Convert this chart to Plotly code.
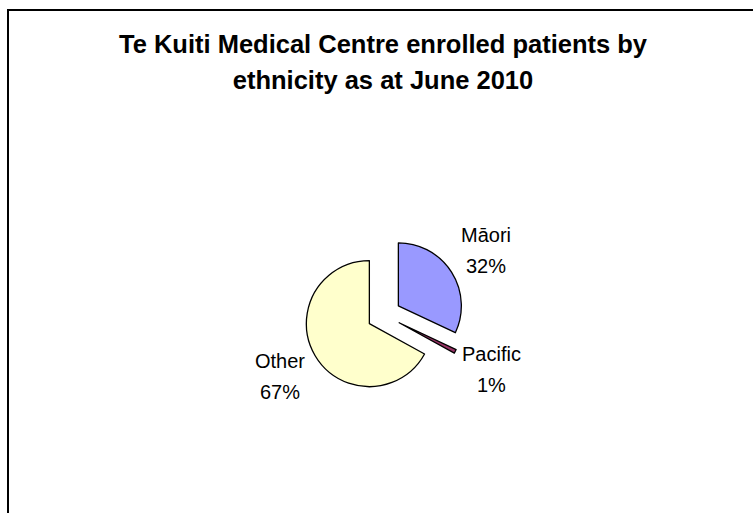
import math
import plotly.graph_objects as go

categories = ["Māori", "Pacific", "Other"]
values = [32, 1, 67]
colors = ["#9999FF", "#993366", "#FFFFCC"]
title_lines = ["Te Kuiti Medical Centre enrolled patients by", "ethnicity as at June 2010"]

W, H = 753, 513
cx, cy, box = 384, 315, 160
pull = 0.27
r = box / 2 / (1 + pull)
label_dist = 1.92 * r

title_text = "<br>".join(f"<span style='font-size:25.5px'><b>{t}</b></span>" for t in title_lines)

fig = go.Figure(go.Pie(
    labels=categories,
    values=values,
    sort=False,
    direction="clockwise",
    rotation=0,
    pull=[pull] * len(values),
    marker=dict(colors=colors, line=dict(color="black", width=1.3)),
    textinfo="none",
    hoverinfo="label+percent",
    domain=dict(x=[(cx - box / 2) / W, (cx + box / 2) / W],
                y=[(H - cy - box / 2) / H, (H - cy + box / 2) / H]),
    showlegend=False,
))

# data labels placed along each slice's mid-angle (clockwise from 12 o'clock)
total = sum(values)
annotations = []
cum = 0
for lab, v in zip(categories, values):
    mid = (cum + v / 2) / total * 2 * math.pi
    cum += v
    px = cx + label_dist * math.sin(mid)
    py = cy - label_dist * math.cos(mid)
    pct = f"{round(100 * v / total)}%"
    annotations.append(dict(
        x=px / W, y=(H - py) / H, xref="paper", yref="paper",
        text=f"<span style='font-size:20px'>{lab}</span><br><span style='font-size:20px'>{pct}</span>",
        showarrow=False, xanchor="center", yanchor="middle", align="center",
        font=dict(family="Liberation Sans, Arial", size=24, color="black"),
    ))

fig.update_layout(
    width=W, height=H,
    margin=dict(l=0, r=0, t=0, b=0),
    paper_bgcolor="white",
    plot_bgcolor="white",
    font=dict(family="Liberation Sans, Arial", color="black"),
    title=dict(text=title_text, x=383 / W, xanchor="center", y=1 - 53 / H, yanchor="top",
               yref="container", font=dict(size=28, family="Liberation Sans, Arial", color="black")),
    annotations=annotations,
    shapes=[dict(type="rect", xref="paper", yref="paper", x0=8 / W, x1=1.05, y0=-0.05, y1=1 - 10 / H,
                 line=dict(color="black", width=2), fillcolor="rgba(0,0,0,0)")],
)

fig.write_html("out.html")
